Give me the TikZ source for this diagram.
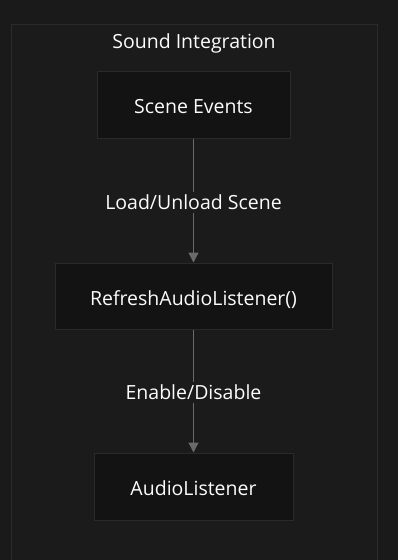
\documentclass[tikz,border=0pt]{standalone}
\usepackage{fontspec}
\setmainfont{Open Sans}
\usetikzlibrary{arrows.meta}
\definecolor{bg}{HTML}{1A1A1A}
\definecolor{clfill}{HTML}{1B1B1B}
\definecolor{clline}{HTML}{2B2B2B}
\definecolor{nodefill}{HTML}{131313}
\definecolor{nodeline}{HTML}{2A2A2A}
\definecolor{arrowc}{HTML}{6A6A6A}
\definecolor{txt}{HTML}{FCFCFC}
\begin{document}
\begin{tikzpicture}[x=1pt,y=-1pt,
  box/.style={draw=nodeline, fill=nodefill, line width=1pt, inner sep=0pt, text height=18pt, text depth=0pt},
  lbl/.style={text=txt, font=\fontsize{19.5}{23}\selectfont},
  conn/.style={draw=arrowc, line width=1.3pt, -{Triangle[length=10pt,width=10pt]}}]
\fill[bg] (0,0) rectangle (398,560);
\useasboundingbox (0,0) rectangle (398,560);
\draw[clline, fill=clfill, line width=1pt] (11.5,24.5) rectangle (377.5,570);
\node[lbl] (title) at (194,43) {Sound Integration};
\node[box, minimum width=193pt, minimum height=67pt, lbl] (scene) at (193.5,104.5) {Scene Events};
\node[box, minimum width=277pt, minimum height=66pt, lbl] (refresh) at (193.5,296) {RefreshAudioListener()};
\node[box, minimum width=199pt, minimum height=67pt, lbl] (audio) at (193.5,486.5) {AudioListener};
\draw[conn] (scene) -- node[lbl, fill=clfill, inner sep=3pt, yshift=-1.5pt] {Load/Unload Scene} (refresh);
\draw[conn] (refresh) -- node[lbl, fill=clfill, inner sep=3pt, yshift=-1.5pt] {Enable/Disable} (audio);
\end{tikzpicture}
\end{document}
